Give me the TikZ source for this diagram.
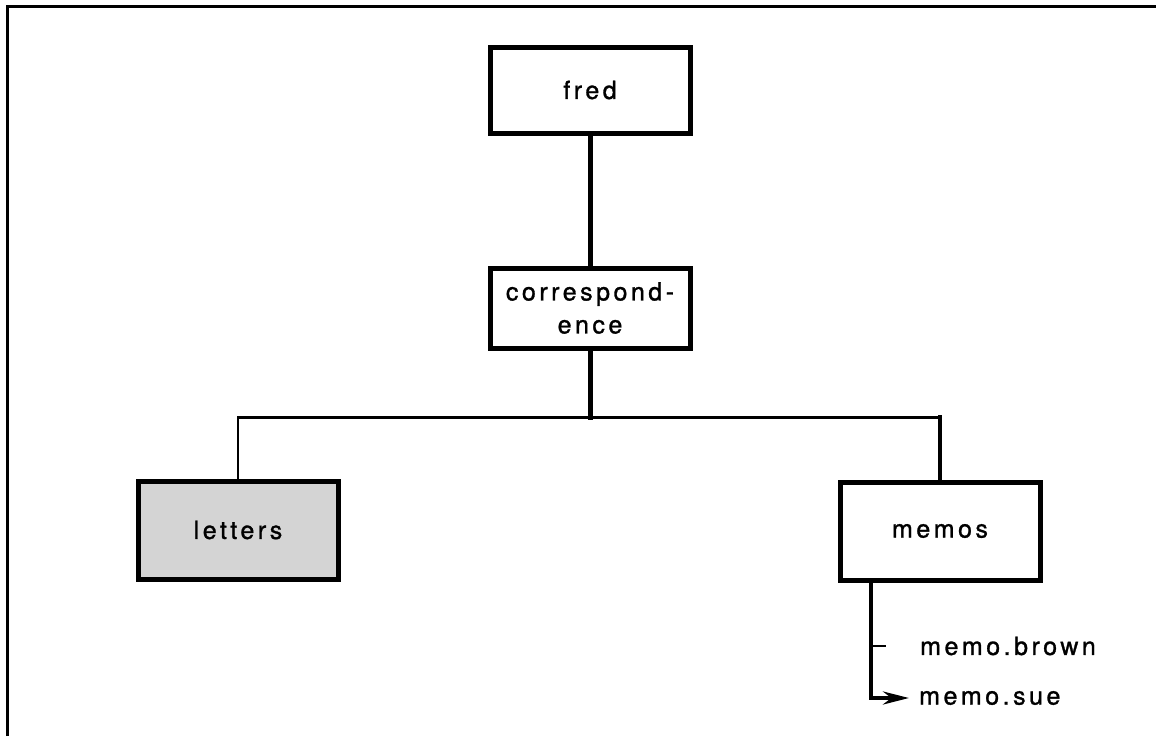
\documentclass[tikz,border=0pt]{standalone}
\usepackage{fontspec}
\setmainfont{TeX Gyre Heros}[LetterSpace=14,FakeBold=1.2]
\usetikzlibrary{arrows.meta,calc}
\begin{document}
\begin{tikzpicture}[x=1pt,y=-1pt,
  box/.style={draw=black,line width=5pt,minimum width=200pt,inner sep=0pt,
    font=\fontsize{25}{33}\selectfont,align=center},
  lbl/.style={anchor=west,inner sep=0pt,font=\fontsize{25}{33}\selectfont},
  tree/.style={draw=black,line cap=rect}]
\useasboundingbox (0,0) rectangle (1156,736);
\fill[white] (0,0) rectangle (1156,736);
% frame
\draw[line width=3pt] (7,736) -- (7,6) -- (1156,6);
% nodes
\node[box,minimum height=86pt] (fred) at (590,90) {fred};
\node[box,minimum height=80pt] (corr) at (590,308) {correspond-\\ence};
\node[box,minimum height=98pt,fill=black!17] (letters) at (238,530) {letters};
\node[box,minimum height=98pt] (memos) at (940,531) {memos};
\node[lbl] (brown) at (920,646) {memo.brown};
\node[lbl] (sue) at (919,698) {memo.sue};
% connectors
\coordinate (junc) at (590,417);
\draw[tree,line width=5pt] (fred.south) -- (corr.north);
\draw[tree,line width=5pt] (corr.south) -- (junc);
\draw[tree,line width=3pt] (junc) -- (letters.north |- junc) coordinate (jl);
\draw[tree,line width=3pt] (junc) -- (memos.north |- junc) coordinate (jr);
\draw[tree,line width=2pt] (jl) -- (letters.north);
\draw[tree,line width=4pt] (jr) -- (memos.north);
\coordinate (mtop) at ($(memos.south west)+(33,0)$);
\coordinate (mbend) at (mtop |- sue.west);
\coordinate (tick) at (mtop |- brown.west);
\draw[line width=4pt,-{Stealth[length=26pt,width=13pt]}] (mtop) -- (mbend) -- ($(sue.west)+(-10,0)$);
\draw[line width=2pt] (tick) -- ++(15,0);
\end{tikzpicture}
\end{document}
